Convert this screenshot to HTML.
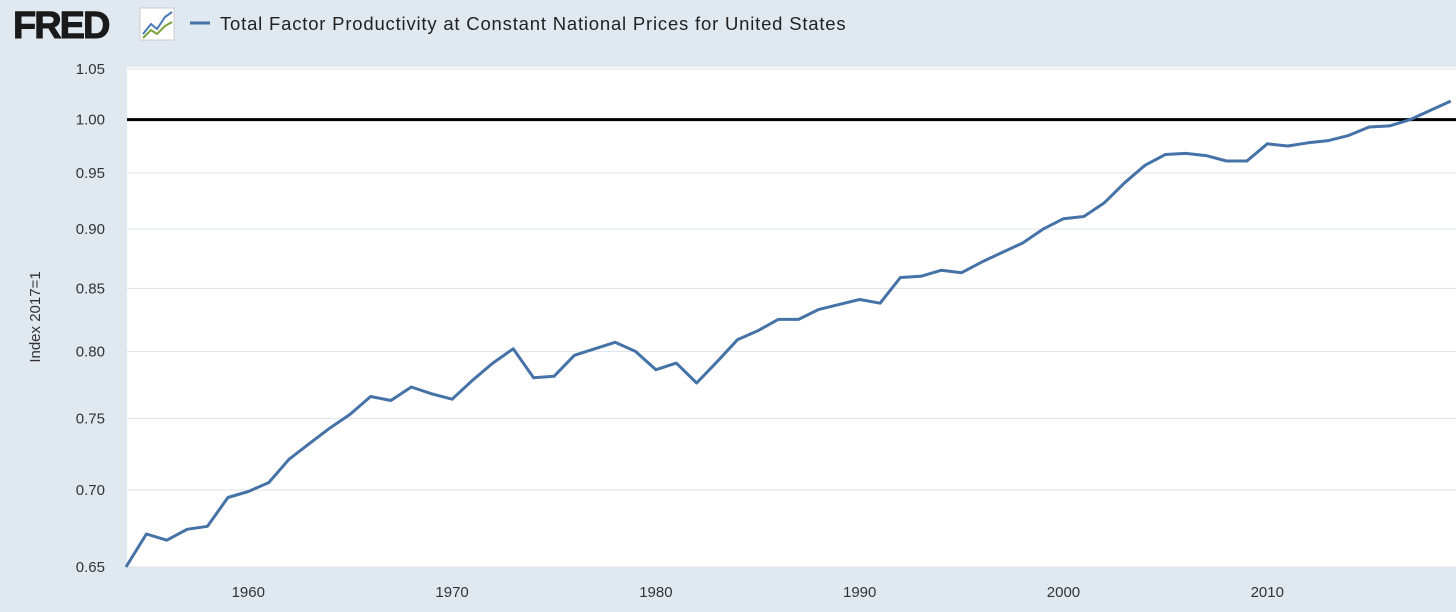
<!DOCTYPE html>
<html><head><meta charset="utf-8"><style>
body{margin:0;width:1456px;height:607px;background:#e1e9f0;font-family:"Liberation Sans",sans-serif;overflow:hidden}
</style></head><body>
<svg width="1456" height="607" xmlns="http://www.w3.org/2000/svg" id="chart">
<rect x="0" y="0" width="1456" height="607" fill="#e1e9f0"/>
<text x="13" y="38" font-size="38" font-weight="900" fill="#1a1a1a" font-family="Liberation Sans, sans-serif" letter-spacing="-2" stroke="#1a1a1a" stroke-width="1">FRED</text>
<g>
<rect x="140" y="8" width="34" height="32" fill="#fff" stroke="#ccc"/>
<polyline points="143,34 151,24 157,29 165,17 172,12" fill="none" stroke="#4a7bb7" stroke-width="2"/>
<polyline points="143,38 151,30 157,34 165,26 172,22" fill="none" stroke="#7aa33a" stroke-width="2"/>
</g>
<line x1="190" y1="23" x2="210" y2="23" stroke="#4572a7" stroke-width="3"/>
<text x="220" y="30" font-size="18.5" fill="#222" letter-spacing="0.8">Total Factor Productivity at Constant National Prices for United States</text>
<rect x="127" y="67" width="1329" height="500" fill="#fff"/>
<g id="grid"></g><g id="yticks"></g><g id="xticks"></g>
<text transform="translate(40,317) rotate(-90)" text-anchor="middle" font-size="15" fill="#333">Index 2017=1</text>
<g id="series"></g>
</svg>
<script>
const years=[1954,1955,1956,1957,1958,1959,1960,1961,1962,1963,1964,1965,1966,1967,1968,1969,1970,1971,1972,1973,1974,1975,1976,1977,1978,1979,1980,1981,1982,1983,1984,1985,1986,1987,1988,1989,1990,1991,1992,1993,1994,1995,1996,1997,1998,1999,2000,2001,2002,2003,2004,2005,2006,2007,2008,2009,2010,2011,2012,2013,2014,2015,2016,2017,2018,2019];
const tfp=[0.650,0.671,0.667,0.674,0.676,0.695,0.699,0.705,0.721,0.732,0.743,0.753,0.766,0.763,0.773,0.768,0.764,0.778,0.791,0.802,0.780,0.781,0.797,0.802,0.807,0.800,0.786,0.791,0.776,0.792,0.809,0.816,0.825,0.825,0.833,0.837,0.841,0.838,0.859,0.860,0.865,0.863,0.872,0.880,0.888,0.900,0.909,0.911,0.923,0.941,0.957,0.967,0.968,0.966,0.961,0.961,0.977,0.975,0.978,0.980,0.985,0.993,0.994,1.000,1.009,1.018];
const yTicks=[0.65,0.70,0.75,0.80,0.85,0.90,0.95,1.00,1.05];
const xTicks=[1960,1970,1980,1990,2000,2010];
const NS='http://www.w3.org/2000/svg';
const X=y=>126+(y-1954)*20.38;
const Y=v=>69+(Math.log(1.05)-Math.log(v))*1038.4;
const grid=document.getElementById('grid'),yt=document.getElementById('yticks'),xt=document.getElementById('xticks'),se=document.getElementById('series');
yTicks.forEach(t=>{
 const l=document.createElementNS(NS,'line');
 l.setAttribute('x1',127);l.setAttribute('x2',1456);l.setAttribute('y1',Y(t));l.setAttribute('y2',Y(t));
 l.setAttribute('stroke',t===1?'#000':'#dde3ea');l.setAttribute('stroke-width',t===1?3:1);
 
 
 grid.appendChild(l);
 const tx=document.createElementNS(NS,'text');
 tx.setAttribute('x',105);tx.setAttribute('y',Y(t)+5);tx.setAttribute('text-anchor','end');tx.setAttribute('font-size','15');tx.setAttribute('fill','#333');
 tx.textContent=t.toFixed(2);
 
 
 yt.appendChild(tx);
});
xTicks.forEach(t=>{
 const tx=document.createElementNS(NS,'text');
 tx.setAttribute('x',X(t));tx.setAttribute('y',597);tx.setAttribute('text-anchor','middle');tx.setAttribute('font-size','15');tx.setAttribute('fill','#333');
 tx.textContent=t;
 
 
 xt.appendChild(tx);
});
const p=document.createElementNS(NS,'polyline');
p.setAttribute('points',years.map((y,i)=>X(y).toFixed(1)+','+Y(tfp[i]).toFixed(1)).join(' '));
p.setAttribute('fill','none');p.setAttribute('stroke','#4572a7');p.setAttribute('stroke-width','3');p.setAttribute('stroke-linejoin','round');


se.appendChild(p);
</script>
</body></html>
